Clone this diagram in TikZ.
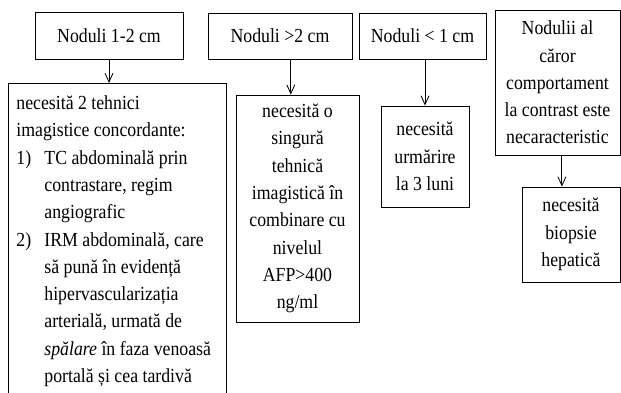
\documentclass[tikz,border=0pt]{standalone}
\usepackage{fontspec}
\setmainfont{Liberation Serif}[FakeStretch=0.89]
\usetikzlibrary{arrows.meta, positioning}

\begin{document}
\begin{tikzpicture}[every node/.style={font=\fontsize{14.2}{19.4}\selectfont, align=center,
			execute at begin node={\spaceskip=0pt\xspaceskip=0pt}},
		box/.style={draw, line width=0.6pt, inner sep=0pt},
		arr/.style={line width=0.6pt, -{Straight Barb[length=0.22cm, width=0.2cm]}}]
		\path[use as bounding box, clip] (0,0) rectangle (15.525,9.8);
		\node[box, minimum width=3.7cm, minimum height=1.175cm] (n12) at (2.725,8.9125) {Noduli 1-2 cm};
		\node[box, minimum width=3.6cm, minimum height=1.15cm] (n2) at (7.0,8.9) {Noduli >2 cm};
		\node[box, minimum width=3.175cm, minimum height=1.15cm] (n1) at (10.5625,8.9) {Noduli < 1 cm};
		\node[box, minimum width=3.125cm, minimum height=3.625cm] (ncar) at (13.9375,7.7375) {Nodulii al\\ căror\\ comportament\\ la contrast este\\ necaracteristic};
		\node[box, anchor=north west, align=flush left, text width=5.05cm, inner xsep=0.2cm, inner ysep=0.31cm] (tehnici) at (0.2,7.725) {necesită 2 tehnici\\ imagistice concordante:\\ \makebox[0.7cm][l]{1)}TC abdominală prin\\ \hspace*{0.7cm}contrastare, regim\\ \hspace*{0.7cm}angiografic\\ \makebox[0.7cm][l]{2)}IRM abdominală, care\\ \hspace*{0.7cm}să pună în evidență\\ \hspace*{0.7cm}hipervascularizația\\ \hspace*{0.7cm}arterială, urmată de\\ \hspace*{0.7cm}\textit{spălare} în faza venoasă\\ \hspace*{0.7cm}portală și cea tardivă};
		\node[box, minimum width=3.075cm, minimum height=5.675cm] (afp) at (7.4375,4.5875) {necesită o\\ singură\\ tehnică\\ imagistică în\\ combinare cu\\ nivelul\\ AFP>400\\ ng/ml};
		\node[box, minimum width=2.2cm, minimum height=2.525cm] (urm) at (10.625,5.8875) {necesită\\ urmărire\\ la 3 luni};
		\node[box, minimum width=2.45cm, minimum height=2.375cm] (biop) at (14.275,3.9375) {necesită\\ biopsie\\ hepatică};
		\draw[arr] (n12.south) -- (n12.south |- tehnici.north);
		\draw[arr] ([xshift=0.27cm]n2.south) -- ([xshift=0.27cm]n2.south |- afp.north);
		\draw[arr] (n1.south -| urm.north) -- (urm.north);
		\draw[arr] ([xshift=0.11cm]ncar.south) -- ([xshift=0.11cm]ncar.south |- biop.north);
	\end{tikzpicture}
\end{document}
